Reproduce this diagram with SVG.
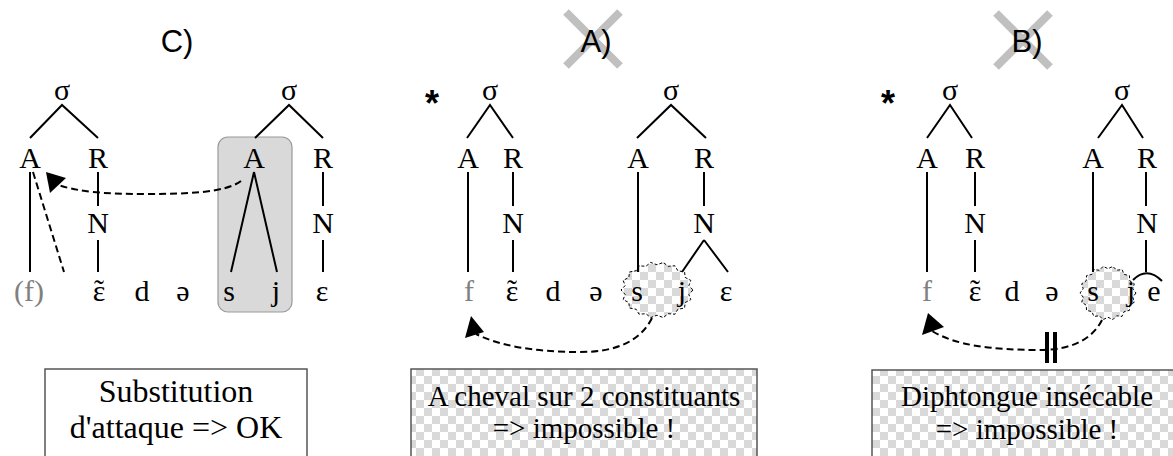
<svg xmlns="http://www.w3.org/2000/svg" width="1173" height="456" viewBox="0 0 1173 456">
<style>
.t{font-family:"Liberation Serif","Times New Roman",serif;font-size:30px;fill:#000;text-anchor:middle}
.g{fill:#808080}
.ttl{font-family:"Liberation Sans",Arial,sans-serif;font-size:31px;text-anchor:middle;fill:#000}
.star{font-family:"Liberation Sans",Arial,sans-serif;font-size:36px;font-weight:bold;text-anchor:middle;fill:#000}
.ln{stroke:#000;stroke-width:2;fill:none}
.dash{stroke:#000;stroke-width:2;fill:none;stroke-dasharray:7 4}
.head{fill:#000;stroke:none}
.x{stroke:#c0c0c0;stroke-width:8;fill:none}
.box{stroke:#555;stroke-width:1.5}
.bt{font-family:"Liberation Serif","Times New Roman",serif;text-anchor:middle;fill:#000}
.bub{fill:url(#chk);stroke:#000;stroke-width:1;stroke-dasharray:3 2}
</style>
<defs>
<pattern id="chk" patternUnits="userSpaceOnUse" width="16" height="16">
<rect width="16" height="16" fill="#fff"/>
<rect width="8" height="8" fill="#d9d9d9"/>
<rect x="8" y="8" width="8" height="8" fill="#d9d9d9"/>
</pattern>
</defs>
<rect width="1173" height="456" fill="#fff"/>

<!-- Titles -->
<g id="title-C"><text class="ttl" x="177" y="52">C)</text></g>
<g id="title-A">
<line class="x" x1="566" y1="12" x2="620" y2="66"/>
<line class="x" x1="620" y1="12" x2="566" y2="66"/>
<text class="ttl" x="596" y="52">A)</text>
</g>
<g id="title-B">
<line class="x" x1="996" y1="13" x2="1050" y2="67"/>
<line class="x" x1="1050" y1="13" x2="996" y2="67"/>
<text class="ttl" x="1027" y="52">B)</text>
</g>

<!-- Panel C -->
<g id="panelC-highlight"><rect x="218" y="137" width="74" height="175" rx="10" fill="#d9d9d9" stroke="#999" stroke-width="1.2"/></g>
<g id="panelC-tree">
<text class="t" x="62" y="100">σ</text>
<text class="t" x="289" y="100">σ</text>
<text class="t" x="30" y="168">A</text>
<text class="t" x="98" y="168">R</text>
<text class="t" x="254" y="168">A</text>
<text class="t" x="323" y="168">R</text>
<text class="t" x="98" y="233">N</text>
<text class="t" x="323" y="233">N</text>
<text class="t g" x="29" y="301">(f)</text>
<text class="t" x="99" y="301">ɛ</text><text class="t" x="99" y="300">˜</text>
<text class="t" x="142" y="301">d</text>
<text class="t" x="183" y="301">ə</text>
<text class="t" x="229" y="301">s</text>
<text class="t" x="276" y="301">j</text>
<text class="t" x="322" y="301">ɛ</text>
</g>

<!-- Panel A -->
<g id="panelA-bubble"><polygon class="bub" points="693,290 688.9,294.4 690.8,299.6 685.1,302.6 684.6,308 677.8,309.3 675,314.2 668.1,313.7 663.3,317.6 657,315.2 650.7,317.6 645.9,313.7 639,314.2 636.2,309.3 629.4,308 628.9,302.6 623.2,299.6 625.1,294.4 621,290 625.1,285.6 623.2,280.4 628.9,277.4 629.4,272 636.2,270.7 639,265.8 645.9,266.3 650.7,262.4 657,264.8 663.3,262.4 668.1,266.3 675,265.8 677.8,270.7 684.6,272 685.1,277.4 690.8,280.4 688.9,285.6"/></g>
<g id="panelA-tree">
<text class="star" x="432" y="116">*</text>
<text class="t" x="490" y="100">σ</text>
<text class="t" x="671" y="100">σ</text>
<text class="t" x="468" y="168">A</text>
<text class="t" x="513" y="168">R</text>
<text class="t" x="638" y="168">A</text>
<text class="t" x="704" y="168">R</text>
<text class="t" x="513" y="233">N</text>
<text class="t" x="704" y="233">N</text>
<text class="t g" x="469" y="301">f</text>
<text class="t" x="512" y="301">ɛ</text><text class="t" x="512" y="300">˜</text>
<text class="t" x="553" y="301">d</text>
<text class="t" x="596" y="301">ə</text>
<text class="t" x="637" y="301">s</text>
<text class="t" x="682" y="301">j</text>
<text class="t" x="726" y="301">ɛ</text>
</g>

<!-- Panel B -->
<g id="panelB-bubble"><polygon class="bub" points="1136,293 1132.8,297.2 1134.3,302.2 1129.8,305.2 1129.4,310.4 1124.2,311.6 1122,316.4 1116.6,315.8 1112.9,319.6 1108,317.3 1103.1,319.6 1099.4,315.8 1094,316.4 1091.8,311.6 1086.6,310.4 1086.2,305.2 1081.7,302.2 1083.2,297.2 1080,293 1083.2,288.8 1081.7,283.8 1086.2,280.8 1086.6,275.6 1091.8,274.4 1094,269.6 1099.4,270.2 1103.1,266.4 1108,268.7 1112.9,266.4 1116.6,270.2 1122,269.6 1124.2,274.4 1129.4,275.6 1129.8,280.8 1134.3,283.8 1132.8,288.8"/></g>
<g id="panelB-tree">
<text class="star" x="888" y="116">*</text>
<text class="t" x="950" y="100">σ</text>
<text class="t" x="1122" y="100">σ</text>
<text class="t" x="927" y="168">A</text>
<text class="t" x="975" y="168">R</text>
<text class="t" x="1093" y="168">A</text>
<text class="t" x="1147" y="168">R</text>
<text class="t" x="975" y="233">N</text>
<text class="t" x="1147" y="233">N</text>
<text class="t g" x="927" y="301">f</text>
<text class="t" x="975" y="301">ɛ</text><text class="t" x="975" y="300">˜</text>
<text class="t" x="1012" y="301">d</text>
<text class="t" x="1052" y="301">ə</text>
<text class="t" x="1093" y="301">s</text>
<text class="t" x="1131" y="301">j</text>
<text class="t" x="1154" y="301">e</text>
</g>

<!-- Connectors -->
<g id="connectors">
<!-- C -->
<path class="ln" d="M30,138 L62,105 L98,138 M255,138 L289,105 L323,138"/>
<path class="ln" d="M30,172 V272 M98,172 V206 M98,240 V272 M254,172 L231,272 M254,172 L277,272 M323,172 V206 M323,240 V272"/>
<path class="dash" d="M33,172 L64,272"/>
<path class="dash" d="M241,181 C225,193 185,194 145,194 C105,194 80,192 58,185"/>
<polygon class="head" points="46,172 66,178 50,193"/>
<!-- A -->
<path class="ln" d="M467,138 L490,105 L513,138 M637,138 L671,105 L706,138"/>
<path class="ln" d="M468,172 V272 M513,172 V206 M513,240 V272 M638,172 V272 M704,172 V206 M704,240 L682,272 M704,240 L728,272"/>
<path class="dash" d="M652,318 C640,342 615,352 580,352 C535,352 500,346 476,334"/>
<polygon class="head" points="471,316 465,338 484,332"/>
<!-- B -->
<path class="ln" d="M927,138 L950,105 L972,138 M1098,138 L1122,105 L1143,138"/>
<path class="ln" d="M927,172 V272 M975,172 V206 M975,240 V272 M1093,172 V272 M1146,172 V206 M1146,240 V272"/>
<path class="ln" d="M1133,280 Q1147,266 1162,281"/>
<path class="dash" d="M1102,320 C1092,340 1070,350 1040,350 C990,350 955,345 932,331"/>
<polygon class="head" points="928,313 922,335 944,327"/>
<path d="M1047,332 V363 M1055,332 V363" stroke="#000" stroke-width="4" fill="none"/>
</g>

<!-- Boxes -->
<g id="box-C">
<rect class="box" x="45" y="369" width="262" height="100" fill="#fff"/>
<text class="bt" x="176" y="402" font-size="32">Substitution</text>
<text class="bt" x="176" y="438" font-size="32">d'attaque =&gt; OK</text>
</g>
<g id="box-A">
<rect class="box" x="411" y="369" width="346" height="100" fill="url(#chk)"/>
<text class="bt" x="584" y="406" font-size="29">A cheval sur 2 constituants</text>
<text class="bt" x="584" y="438" font-size="29">=&gt; impossible !</text>
</g>
<g id="box-B">
<rect class="box" x="872" y="370" width="310" height="100" fill="url(#chk)"/>
<text class="bt" x="1027" y="406" font-size="29">Diphtongue insécable</text>
<text class="bt" x="1027" y="439" font-size="29">=&gt; impossible !</text>
</g>
</svg>
